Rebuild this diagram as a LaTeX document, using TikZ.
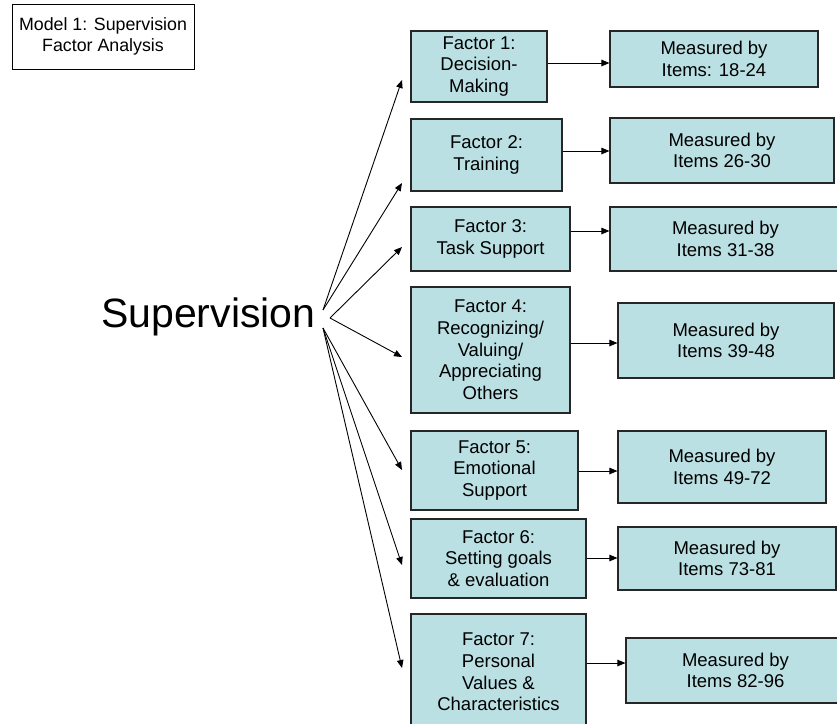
\documentclass[tikz,border=0pt]{standalone}
\usepackage{fontspec}
\setmainfont{Liberation Sans}
\usetikzlibrary{arrows.meta}
\definecolor{boxfill}{RGB}{186,224,228}
\begin{document}
\begin{tikzpicture}[x=1pt,y=-1pt,
  fbox/.style={draw=black!85, line width=1.1pt, fill=boxfill, inner sep=0pt, align=center,
    font=\fontsize{18.5}{21.7}\selectfont},
  arr/.style={line width=0.9pt, -{Triangle[length=8pt,width=6.5pt]}}]
\useasboundingbox (0,0) rectangle (837,723);
\clip (0,0) rectangle (837,723);
% title box
\node[draw=black, line width=0.8pt, inner sep=0pt, minimum width=182pt, minimum height=65pt,
  align=center, font=\fontsize{17.8}{20.5}\selectfont] (title) at (103,36.5)
  {Model 1: Supervision\\Factor Analysis};
% main concept
\node[anchor=base west, inner sep=0pt, font=\fontsize{41}{41}\selectfont] (sup) at (101,327) {Supervision};
% factor boxes
\node[fbox, minimum width=136pt, minimum height=71pt] (F1) at (479,66.5) {Factor 1:\\Decision-\\Making};
\node[fbox, minimum width=151pt, minimum height=72pt] (F2) at (486.5,155) {Factor 2:\\Training};
\node[fbox, minimum width=159pt, minimum height=64pt] (F3) at (490.5,239) {Factor 3:\\Task Support};
\node[fbox, minimum width=159pt, minimum height=126pt] (F4) at (490.5,350) {Factor 4:\\Recognizing/\\Valuing/\\Appreciating\\Others};
\node[fbox, minimum width=167pt, minimum height=79pt] (F5) at (494.5,470.5) {Factor 5:\\Emotional\\Support};
\node[fbox, minimum width=175pt, minimum height=79pt] (F6) at (498.5,558.5) {Factor 6:\\Setting goals\\\& evaluation};
\node[fbox, minimum width=175pt, minimum height=116pt] (F7) at (498.5,672) {Factor 7:\\Personal\\Values \&\\Characteristics};
% measure boxes
\node[fbox, minimum width=208pt, minimum height=56pt] (M1) at (714,59) {Measured by\\Items: 18-24};
\node[fbox, minimum width=224pt, minimum height=65pt] (M2) at (722,150.5) {Measured by\\Items 26-30};
\node[fbox, minimum width=231pt, minimum height=64pt] (M3) at (725.5,239) {Measured by\\Items 31-38};
\node[fbox, minimum width=216pt, minimum height=75pt] (M4) at (726,340.5) {Measured by\\Items 39-48};
\node[fbox, minimum width=208pt, minimum height=72pt] (M5) at (722,467) {Measured by\\Items 49-72};
\node[fbox, minimum width=218pt, minimum height=63pt] (M6) at (727,558.5) {Measured by\\Items 73-81};
\node[fbox, minimum width=219pt, minimum height=65pt] (M7) at (735.5,670.5) {Measured by\\Items 82-96};
% fan origins and tips
\coordinate (o1) at (323,310);
\coordinate (o2) at (330,318);
\coordinate (o3) at (323,328);
\coordinate (t1) at (402,80);
\coordinate (t2) at (402,183);
\coordinate (t3) at (402,247);
\coordinate (t4) at (402,357);
\coordinate (t5) at (402,470);
\coordinate (t6) at (402,565);
\coordinate (t7) at (402,668);
\draw[arr] (o1) -- (t1);
\draw[arr] (o1) -- (t2);
\draw[arr] (o2) -- (t3);
\draw[arr] (o2) -- (t4);
\draw[arr] (o3) -- (t5);
\draw[arr] (o3) -- (t6);
\draw[arr] (o3) -- (t7);
% factor to measure
\draw[arr] (F1.east |- 0,63) -- (M1.west |- 0,63);
\draw[arr] (F2.east |- 0,151) -- (M2.west |- 0,151);
\draw[arr] (F3.east |- 0,231) -- (M3.west |- 0,231);
\draw[arr] (F4.east |- 0,343) -- (M4.west |- 0,343);
\draw[arr] (F5.east |- 0,471) -- (M5.west |- 0,471);
\draw[arr] (F6.east |- 0,558) -- (M6.west |- 0,558);
\draw[arr] (F7.east |- 0,663) -- (M7.west |- 0,663);
\end{tikzpicture}
\end{document}
